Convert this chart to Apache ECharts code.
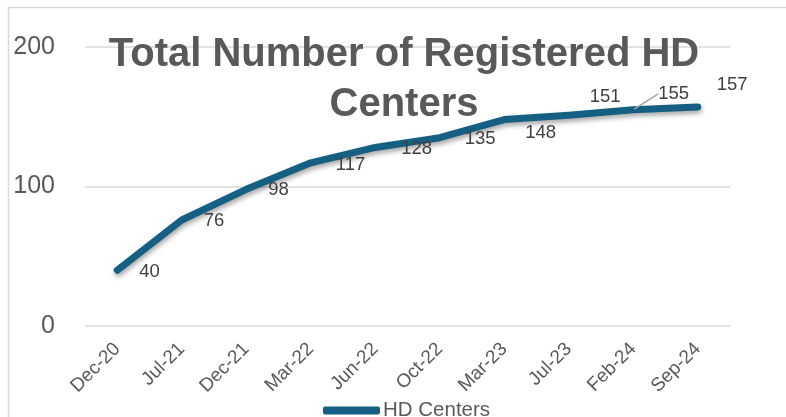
<!DOCTYPE html>
<html>
<head>
<meta charset="utf-8">
<script src="https://cdn.jsdelivr.net/npm/echarts@6/dist/echarts.min.js"></script>
<style>
html,body{margin:0;padding:0;background:#fff;}
#chart{width:786px;height:417px;}
</style>
</head>
<body>
<div id="chart"></div>
<script>
var categories = ['Dec-20','Jul-21','Dec-21','Mar-22','Jun-22','Oct-22','Mar-23','Jul-23','Feb-24','Sep-24'];
var hdCenters = [40, 76, 98, 117, 128, 135, 148, 151, 155, 157];
var yTicks = [0, 100, 200];
var seriesName = 'HD Centers';
var titleText = 'Total Number of Registered HD\nCenters';

// label placement tweaks (style only), per point index: [dx, dy]
var labelShift = [[21,2],[21,1],[21,1],[24,2],[25,1],[24,1],[20,13],[20,-18],[24,-16],[18,-22]];

var chart = echarts.init(document.getElementById('chart'), null, {renderer:'canvas'});
var font = 'Liberation Sans, Arial, sans-serif';
var data = hdCenters.map(function(v, i){
  return {
    value: v,
    labelLine: {show: i === 8, lineStyle:{color:'#a6a6a6', width:1.5}}
  };
});
chart.setOption({
  animation: false,
  graphic: [{
    type:'rect', left:6, top:5, shape:{width:820, height:440},
    style:{fill:'none', stroke:'#d9d9d9', lineWidth:1.5}, silent:true, z:-10
  }],
  title: {
    text: titleText,
    left: 399,
    textAlign: 'center',
    top: 25,
    textStyle: {fontFamily: font, fontWeight:'bold', fontSize:40, color:'#595959', lineHeight:50}
  },
  legend: {
    data: [seriesName],
    bottom: -9,
    left: 318,
    icon: 'roundRect',
    itemWidth: 57,
    itemHeight: 8,
    itemGap: 3,
    textStyle: {fontFamily: font, fontSize:20.5, color:'#595959', padding:[0,0,0,-2]}
  },
  grid: {left:85, right:56, top:47, bottom:91, containLabel:false},
  xAxis: {
    type:'category',
    data: categories,
    boundaryGap: true,
    axisLine:{show:false}, axisTick:{show:false},
    axisLabel:{rotate:45, margin:20, fontFamily:font, fontSize:19, color:'#595959', interval:0}
  },
  yAxis: {
    type:'value', min:yTicks[0], max:yTicks[yTicks.length-1], interval:yTicks[1]-yTicks[0],
    axisLine:{show:false}, axisTick:{show:false},
    axisLabel:{margin:30, fontFamily:font, fontSize:25, color:'#595959'},
    splitLine:{lineStyle:{color:'#d9d9d9', width:1.5}}
  },
  series: [{
    name: seriesName,
    type:'line',
    data: data,
    symbol:'circle', symbolSize:2,
    itemStyle:{color:'#156082'},
    lineStyle:{color:'#156082', width:7, cap:'round', join:'round',
      shadowColor:'rgba(0,0,0,0.35)', shadowBlur:5, shadowOffsetY:3, shadowOffsetX:1},
    label:{show:true, position:'right', distance:0, fontFamily:font, fontSize:18.5, color:'#404040'},
    labelLine:{show:false},
    labelLayout: function(p){
      var s = labelShift[p.dataIndex] || [0,0];
      return {dx: s[0], dy: s[1]};
    }
  }]
});
</script>
</body>
</html>
